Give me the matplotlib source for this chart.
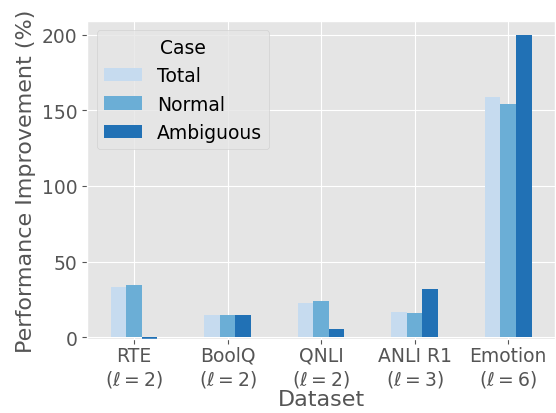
import matplotlib.pyplot as plt
import numpy as np
import pandas as pd

plt.style.use("ggplot")

datasets = ["RTE\n($\\ell=2$)", "BoolQ\n($\\ell=2$)", "QNLI\n($\\ell=2$)",
            "ANLI R1\n($\\ell=3$)", "Emotion\n($\\ell=6$)"]
total = [33.0, 14.5, 22.5, 16.5, 159.0]
normal = [34.5, 14.5, 23.8, 16.0, 154.0]
ambiguous = [-0.8, 14.5, 5.3, 31.8, 200.0]

df = pd.DataFrame({"Total": total, "Normal": normal, "Ambiguous": ambiguous},
                  index=datasets)
colors = ["#c6dbef", "#6baed6", "#2171b5"]

fig, ax = plt.subplots(figsize=(5.56, 4.14), dpi=100)
fig.subplots_adjust(left=0.157, right=0.998, top=0.947, bottom=0.179)
df.plot.bar(ax=ax, color=colors, width=0.5, rot=0)

ax.set_xlabel("Dataset", fontsize=16, labelpad=0)
ax.set_ylabel("Performance Improvement (%)", fontsize=16)
ax.tick_params(axis="both", labelsize=13.5)
ax.tick_params(axis="x", pad=1.5)
ax.set_yticks([0, 50, 100, 150, 200])
ax.set_ylim(-1, 209)
ax.legend(title="Case", fontsize=13.5, title_fontsize=13.5, loc="upper left")

plt.savefig("out.png", dpi=100)
